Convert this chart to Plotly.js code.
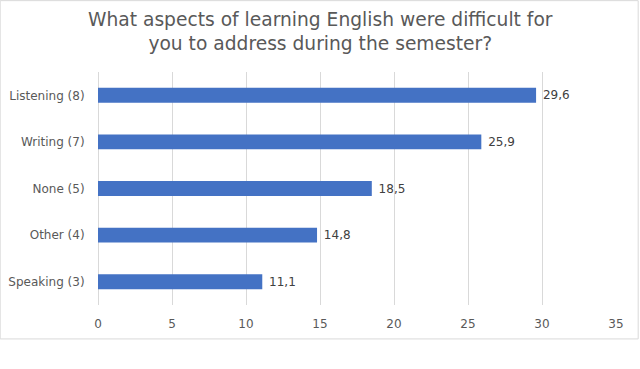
<!DOCTYPE html>
<html>
<head>
<meta charset="utf-8">
<script src="https://cdn.plot.ly/plotly-3.0.1.min.js"></script>
<style>html,body{margin:0;padding:0;background:#fff;}#chart{width:640px;height:369px;}</style>
</head>
<body>
<div id="chart"></div>
<script>
const categories = ["Listening (8)", "Writing (7)", "None (5)", "Other (4)", "Speaking (3)"];
const values = [29.6, 25.9, 18.5, 14.8, 11.1];
const xTicks = [0, 5, 10, 15, 20, 25, 30, 35];
const titleText = "What aspects of learning English were difficult for<br>you to address during the semester?";

const L = 98.3, R = 616.3, T = 72, B = 305.5, W = 640, H = 369;
const pw = R - L, ph = B - T;
function px2x(p){ return (p - L) / pw; }
function px2y(p){ return (B - p) / ph; }

const trace = {
  type: 'bar',
  orientation: 'h',
  y: categories,
  x: values,
  marker: {color: '#4472C4'},
  texttemplate: ' %{x:.1f}',
  textposition: 'outside',
  cliponaxis: false,
  textfont: {family: 'DejaVu Sans', size: 12, color: '#404040'},
  hoverinfo: 'none'
};

const layout = {
  width: W, height: H,
  separators: ', ',
  paper_bgcolor: '#ffffff',
  plot_bgcolor: '#ffffff',
  margin: {l: L, r: W - R, t: T, b: H - B, pad: 0},
  showlegend: false,
  bargap: 0.68,
  xaxis: {
    range: [0, 35],
    tickvals: xTicks,
    ticktext: xTicks.map(String),
    showgrid: true, gridcolor: '#d9d9d9', gridwidth: 1,
    zeroline: true, zerolinecolor: '#d9d9d9', zerolinewidth: 1,
    showline: false,
    ticks: 'outside', ticklen: 8, tickcolor: 'rgba(0,0,0,0)',
    tickfont: {family: 'DejaVu Sans', size: 12, color: '#595959'},
    fixedrange: true
  },
  yaxis: {
    autorange: 'reversed',
    type: 'category',
    showgrid: false, zeroline: false, showline: false,
    ticks: 'outside', ticklen: 10, tickcolor: 'rgba(0,0,0,0)',
    tickfont: {family: 'DejaVu Sans', size: 12, color: '#595959'},
    fixedrange: true
  },
  annotations: [{
    text: titleText,
    xref: 'paper', yref: 'paper',
    x: px2x(320.5), y: px2y(7),
    xanchor: 'center', yanchor: 'top',
    showarrow: false, align: 'center',
    font: {family: 'DejaVu Sans', size: 18.67, color: '#595959'}
  }],
  shapes: [{
    type: 'rect', xref: 'paper', yref: 'paper',
    x0: px2x(0.5), x1: px2x(638.5), y0: px2y(339.5), y1: px2y(0.5),
    line: {color: '#d9d9d9', width: 1}, fillcolor: 'rgba(0,0,0,0)', layer: 'below'
  }]
};

Plotly.newPlot('chart', [trace], layout, {staticPlot: true, displayModeBar: false});
</script>
</body>
</html>
